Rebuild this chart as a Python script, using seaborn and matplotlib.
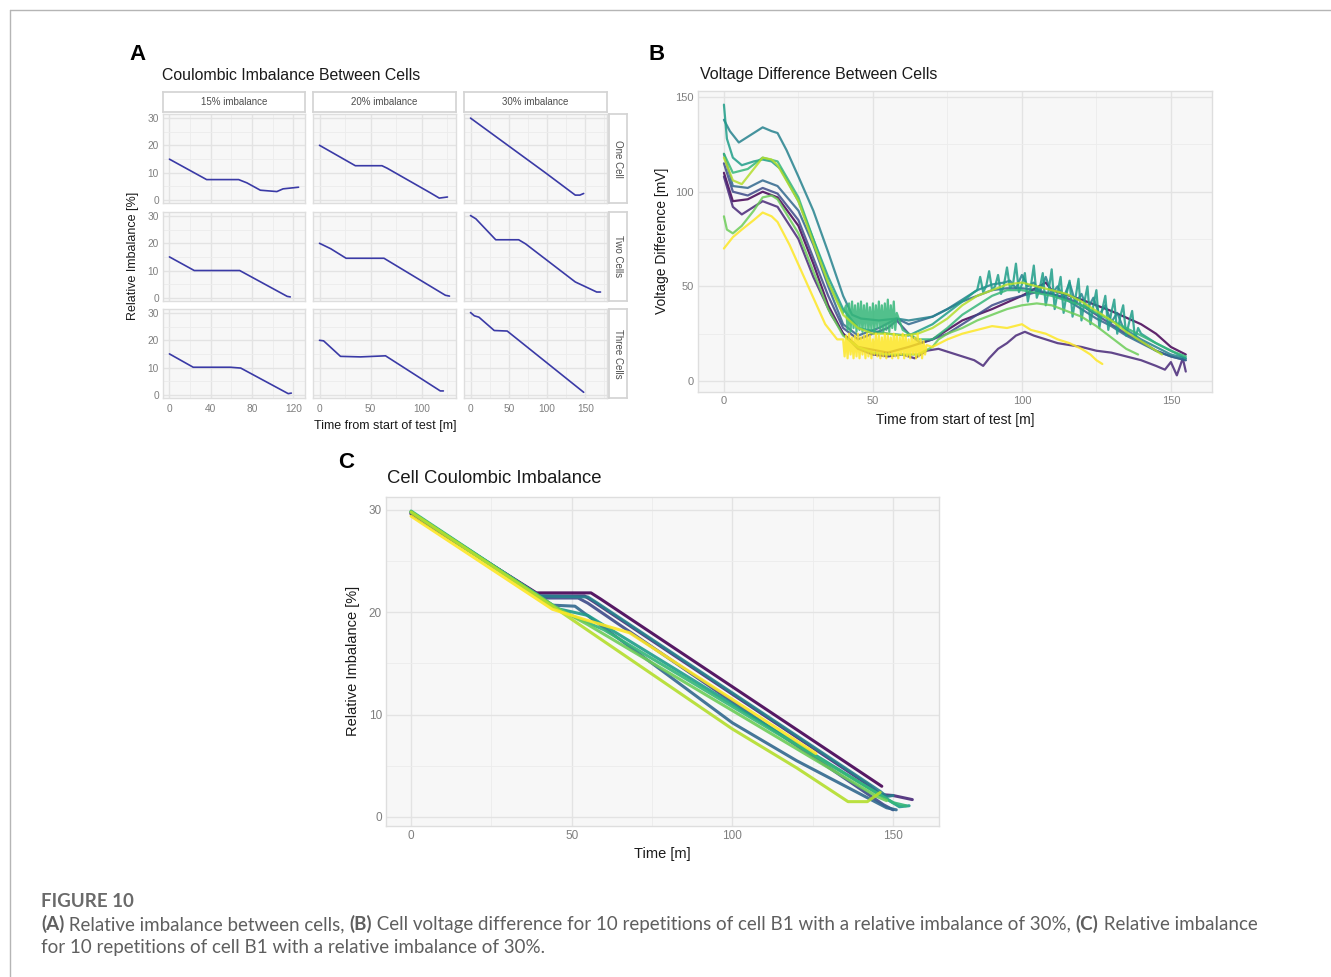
import numpy as np
import pandas as pd
import seaborn as sns
import matplotlib.pyplot as plt
from matplotlib.lines import Line2D
from matplotlib.ticker import MultipleLocator

W, H = 1331, 977

# ---------------- panel A: relative imbalance per facet ----------------
a_rows = ["One Cell", "Two Cells", "Three Cells"]
a_cols = ["15% imbalance", "20% imbalance", "30% imbalance"]

a_one_15_t = [0, 36, 67, 75, 88, 104, 110, 125]
a_one_15_v = [14.9, 7.4, 7.4, 6.2, 3.5, 3.0, 4.0, 4.6]
a_one_20_t = [0, 35, 61, 66, 108, 117, 125]
a_one_20_v = [20.0, 12.5, 12.5, 11.6, 2.6, 0.6, 1.0]
a_one_30_t = [0, 98, 137, 143, 148]
a_one_30_v = [30.0, 9.9, 1.7, 1.7, 2.3]
a_two_15_t = [0, 24, 68, 114, 117]
a_two_15_v = [15.0, 10.0, 10.0, 0.5, 0.3]
a_two_20_t = [0, 11, 26, 63, 123, 127]
a_two_20_v = [20.0, 18.0, 14.5, 14.5, 0.9, 0.6]
a_two_30_t = [0, 7, 33, 63, 72, 137, 156, 165, 170]
a_two_30_v = [30.2, 29.0, 21.3, 21.3, 19.8, 5.8, 3.3, 2.1, 2.1]
a_three_15_t = [0, 23, 59, 69, 115, 118]
a_three_15_v = [15.0, 10.1, 10.1, 9.8, 0.4, 0.6]
a_three_20_t = [0, 4, 20.5, 40, 64.5, 118, 121]
a_three_20_v = [20.0, 19.8, 14.1, 13.9, 14.3, 1.4, 1.4]
a_three_30_t = [0, 5, 11, 31, 48, 148]
a_three_30_v = [30.2, 29.0, 28.5, 23.6, 23.4, 0.9]

a_col_xlim = [(-6.25, 131.25), (-6.35, 133.35), (-8.5, 178.5)]
a_col_xticks = [[0, 40, 80, 120], [0, 50, 100], [0, 50, 100, 150]]

# ---------------- panel B: voltage difference, 10 repetitions ----------------
reps = [f"rep{i}" for i in range(1, 11)]

b0_t = [0, 3, 8, 13, 18, 25, 30, 35, 40, 45, 55, 62, 70, 80, 90, 100, 108, 110, 120, 130, 140, 145, 150, 155]
b0_v = [110, 95, 96, 100, 97, 82, 62, 40, 25, 18, 15, 18, 22, 32, 38, 45, 52, 48, 43, 37, 30, 25, 18, 14]
b1_t = [0, 3, 6, 13, 18, 25, 30, 36, 40, 45, 50, 55, 60, 64, 68, 72, 76, 80, 84, 87, 89, 92, 95, 98,
        101, 104, 108, 112, 116, 120, 125, 130, 135, 140, 145, 148, 150, 152, 154, 155]
b1_v = [108, 92, 88, 95, 92, 75, 55, 35, 25, 17, 14, 13, 14, 12, 16, 17, 15, 13, 11, 8, 12, 17, 20, 24,
        26, 24, 22, 20, 19, 18, 16, 15, 13, 11, 8, 6, 10, 3, 12, 5]
b2_t = [0, 3, 8, 13, 18, 25, 30, 35, 40, 45, 50, 55, 58, 62, 66, 70, 75, 80, 85, 90, 95, 100,
        105, 110, 115, 120, 125, 130, 135, 140, 145, 150, 155]
b2_v = [115, 100, 98, 102, 99, 85, 65, 45, 28, 22, 25, 28, 32, 25, 20, 22, 25, 30, 35, 40, 43, 45,
        47, 46, 44, 40, 35, 30, 25, 21, 16, 13, 11]
b3_t = [0, 3, 8, 13, 18, 25, 30, 35, 40, 45, 52, 58, 62, 66, 70, 75, 80, 85, 90, 95, 100,
        105, 110, 115, 120, 125, 130, 135, 140, 145, 150, 155]
b3_v = [120, 103, 102, 106, 103, 90, 72, 50, 30, 24, 28, 33, 30, 32, 34, 38, 42, 45, 48, 49, 49,
        48, 46, 43, 38, 33, 29, 24, 20, 16, 13, 11]
b4_t = [0, 2, 5, 8, 11, 13, 16, 18, 21, 25, 30, 35, 40, 43, 46, 52, 58, 62, 66, 70, 75, 80, 85, 90, 94,
        96, 98, 100, 102, 104, 106, 108, 110, 112, 114, 116, 118, 120, 122, 124, 126, 128, 130, 132, 134,
        140, 145, 150, 155]
b4_v = [138, 132, 126, 129, 132, 134, 132, 131, 122, 108, 90, 68, 45, 35, 33, 32, 33, 32, 33, 34, 38, 43, 48, 51, 52,
        53, 49, 56, 50, 52, 47, 55, 46, 50, 44, 52, 41, 46, 38, 44, 35, 40, 31, 36, 28,
        22, 18, 14, 12]
b5_t = [0, 1, 3, 6, 10, 13, 16, 19, 25, 30, 35, 40, 45, 55, 62, 70, 80, 84] + list(range(85, 141)) + [145, 150, 155]
b5_v = [146, 128, 118, 114, 116, 117, 116, 112, 95, 75, 55, 38, 28, 25, 24, 30, 42, 47,
        48, 55, 47, 50, 58, 48, 50, 56, 46, 51,
        60, 49, 51, 62, 47, 51, 57, 42, 50, 61,
        44, 49, 57, 40, 48, 59, 38, 47, 55, 36,
        46, 53, 34, 44, 54, 32, 42, 50, 30, 40,
        48, 28, 38, 45, 27, 36, 43, 25, 34, 40,
        24, 31, 37, 22, 28, 25,
        20, 16, 12]
b6_t = [0, 3, 8, 13, 18, 25, 30, 35, 40, 60, 65, 70, 75, 80, 85, 90, 95, 100, 110, 120, 130, 140, 150, 155]
b6_v = [120, 110, 112, 118, 116, 97, 75, 52, 36, 27, 22, 22, 28, 35, 40, 45, 48, 48, 45, 40, 32, 24, 16, 13]
b6_block_t = list(np.arange(41, 58.01, 0.5))
b6_block_v = [40, 27, 41, 26, 42, 28, 40, 26, 41, 27, 42, 26, 40, 28, 41, 26, 39, 27, 41, 26,
              40, 28, 42, 27, 40, 26, 41, 27, 43, 26, 40, 28, 42, 27, 36]
b7_t = [0, 1, 3, 6, 10, 13, 16, 18, 25, 30, 35, 40, 45, 50, 55, 60, 65, 70, 72, 75, 80, 85, 90, 95,
        100, 105, 110, 115, 120, 125, 130, 135, 139]
b7_v = [87, 80, 78, 82, 90, 97, 98, 96, 78, 58, 38, 24, 18, 15, 14, 14, 14, 18, 22, 25, 28, 32, 35, 38,
        40, 41, 40, 37, 34, 29, 23, 17, 14]
b8_t = [0, 3, 6, 10, 13, 16, 18, 25, 30, 35, 40, 45, 50, 55, 60, 65, 70, 75, 80, 85, 90, 95, 100,
        105, 110, 115, 120, 125, 130, 135, 140, 145, 147]
b8_v = [118, 106, 104, 112, 118, 117, 114, 95, 73, 52, 35, 28, 25, 25, 24, 25, 28, 33, 40, 45, 48, 51, 52,
        50, 48, 46, 42, 37, 32, 26, 21, 16, 14]
b9_t = [0, 1, 3, 6, 10, 13, 16, 18, 22, 26, 30, 34, 38, 70, 75, 80, 85, 90, 95, 100, 103, 108, 112,
        116, 120, 123, 125, 127]
b9_v = [70, 72, 76, 80, 85, 89, 87, 84, 72, 58, 44, 30, 22, 18, 22, 25, 27, 29, 28, 30, 27, 25, 22,
        20, 17, 14, 11, 9]
b9_block_t = list(np.arange(40, 68.01, 0.5))
b9_block_v = [22, 13, 24, 12, 25, 14, 23, 12, 24, 13, 25, 12, 23, 14, 24, 12, 25, 13, 24, 12,
              22, 14, 25, 13, 24, 12, 23, 13, 25, 12, 24, 14, 23, 12, 25, 13, 24, 12, 23, 14,
              25, 12, 24, 13, 22, 12, 24, 14, 23, 12, 25, 13, 22, 12, 21, 14, 19]

# ---------------- panel C: relative imbalance, 10 repetitions ----------------
c0_t = [0, 39, 56, 59, 146.5]
c0_v = [29.6, 21.9, 21.9, 21.3, 3.0]
c1_t = [0, 40, 54, 57, 143, 146, 150, 156]
c1_v = [29.7, 21.6, 21.6, 21.0, 3.0, 2.2, 2.1, 1.7]
c2_t = [0, 41, 52, 55, 147, 150]
c2_v = [29.7, 21.4, 21.4, 20.9, 1.2, 0.7]
c3_t = [0, 44, 51, 100, 120, 148, 151]
c3_v = [29.8, 20.7, 20.6, 9.2, 5.5, 0.9, 0.7]
c4_t = [0, 40, 55, 58, 146, 148, 150]
c4_v = [29.8, 21.6, 21.5, 20.9, 2.5, 2.0, 2.1]
c5_t = [0, 45, 55, 152, 155]
c5_v = [29.8, 20.4, 19.7, 1.0, 1.1]
c6_t = [0, 47, 60, 150, 154]
c6_v = [29.9, 20.1, 18.3, 1.4, 1.1]
c7_t = [0, 45, 55, 145, 148]
c7_v = [29.8, 20.5, 18.8, 2.0, 1.6]
c8_t = [0, 44, 100, 120, 136, 142, 146]
c8_v = [29.8, 20.6, 8.6, 4.8, 1.5, 1.5, 2.4]
c9_t = [0, 44, 55, 68, 126]
c9_v = [29.4, 20.3, 19.2, 18.0, 6.2]

viridis10 = ["#440154", "#482878", "#3E4A89", "#31688E", "#26828E",
             "#1F9E89", "#35B779", "#6DCD59", "#B4DE2C", "#FDE725"]

# ---------------- build tables ----------------
a_lists = {
    ("One Cell", "15% imbalance"): (a_one_15_t, a_one_15_v),
    ("One Cell", "20% imbalance"): (a_one_20_t, a_one_20_v),
    ("One Cell", "30% imbalance"): (a_one_30_t, a_one_30_v),
    ("Two Cells", "15% imbalance"): (a_two_15_t, a_two_15_v),
    ("Two Cells", "20% imbalance"): (a_two_20_t, a_two_20_v),
    ("Two Cells", "30% imbalance"): (a_two_30_t, a_two_30_v),
    ("Three Cells", "15% imbalance"): (a_three_15_t, a_three_15_v),
    ("Three Cells", "20% imbalance"): (a_three_20_t, a_three_20_v),
    ("Three Cells", "30% imbalance"): (a_three_30_t, a_three_30_v),
}
df_a = pd.concat([pd.DataFrame({"cells": r, "imb": c, "t": t, "v": v})
                  for (r, c), (t, v) in a_lists.items()], ignore_index=True)

b_lists = [(b0_t, b0_v), (b1_t, b1_v), (b2_t, b2_v), (b3_t, b3_v), (b4_t, b4_v),
           (b5_t, b5_v), (b6_t + b6_block_t, b6_v + b6_block_v), (b7_t, b7_v),
           (b8_t, b8_v), (b9_t + b9_block_t, b9_v + b9_block_v)]
df_b = pd.concat([pd.DataFrame({"rep": reps[i], "t": t, "v": v})
                  for i, (t, v) in enumerate(b_lists)], ignore_index=True)

c_lists = [(c0_t, c0_v), (c1_t, c1_v), (c2_t, c2_v), (c3_t, c3_v), (c4_t, c4_v),
           (c5_t, c5_v), (c6_t, c6_v), (c7_t, c7_v), (c8_t, c8_v), (c9_t, c9_v)]
df_c = pd.concat([pd.DataFrame({"rep": reps[i], "t": t, "v": v})
                  for i, (t, v) in enumerate(c_lists)], ignore_index=True)

# ---------------- figure ----------------
sns.set_theme(style="white")
plt.rcParams['font.family'] = ['Liberation Sans', 'DejaVu Sans']

fig = plt.figure(figsize=(W / 100, H / 100), dpi=100)
fig.patch.set_facecolor("white")

TICK = "#7f7f7f"
INK = "#1a1a1a"


def px_axes(l, t, r, b):
    return fig.add_axes([l / W, 1 - b / H, (r - l) / W, (b - t) / H])


def ftext(x, y, s, **kw):
    return fig.text(x / W, 1 - y / H, s, **kw)


def style_panel(ax, xlim, ylim, xmaj, xmin, ymaj, ymin, fs, showx=True, showy=True):
    ax.set_facecolor("#f7f7f7")
    ax.set_xlim(*xlim)
    ax.set_ylim(*ylim)
    ax.xaxis.set_major_locator(MultipleLocator(xmaj))
    ax.xaxis.set_minor_locator(MultipleLocator(xmin))
    ax.yaxis.set_major_locator(MultipleLocator(ymaj))
    ax.yaxis.set_minor_locator(MultipleLocator(ymin))
    ax.grid(True, which="major", color="#e3e3e3", lw=1.0)
    ax.grid(True, which="minor", color="#ececec", lw=0.6)
    ax.set_axisbelow(True)
    for sp in ax.spines.values():
        sp.set_color("#dedede")
        sp.set_linewidth(1.0)
    ax.tick_params(which="both", length=0, labelsize=fs, labelcolor=TICK, pad=3)
    if not showx:
        ax.set_xticklabels([])
    if not showy:
        ax.set_yticklabels([])
    ax.set_xlabel("")
    ax.set_ylabel("")


# ---- panel A ----
col_px = [(163, 305), (313, 456), (464, 607)]
row_px = [(114, 203), (212, 301), (309, 398)]
for ri, rname in enumerate(a_rows):
    for ci, cname in enumerate(a_cols):
        ax = px_axes(col_px[ci][0], row_px[ri][0], col_px[ci][1], row_px[ri][1])
        sub = df_a[(df_a["cells"] == rname) & (df_a["imb"] == cname)]
        sns.lineplot(data=sub, x="t", y="v", color="#3a3aa6", lw=1.2,
                     estimator=None, sort=False, ax=ax)
        style_panel(ax, a_col_xlim[ci], (-1.2, 31.5), 40 if ci == 0 else 50,
                    20 if ci == 0 else 25, 10, 5, 7.3,
                    showx=(ri == 2), showy=(ci == 0))
        ax.set_xticks(a_col_xticks[ci])
        if ri != 2:
            ax.set_xticklabels([])
        ax.tick_params(axis="x", pad=4)
        if ri == 0:
            st = px_axes(col_px[ci][0], 92, col_px[ci][1], 112)
            st.set_facecolor("white")
            st.set_xticks([]); st.set_yticks([])
            for sp in st.spines.values():
                sp.set_color("#d4d4d4")
            st.text(0.5, 0.5, cname, ha="center", va="center", fontsize=7, color="#4d4d4d",
                    transform=st.transAxes)
    sr = px_axes(609, row_px[ri][0], 627, row_px[ri][1])
    sr.set_facecolor("white")
    sr.set_xticks([]); sr.set_yticks([])
    for sp in sr.spines.values():
        sp.set_color("#d4d4d4")
    sr.text(0.5, 0.5, rname, ha="center", va="center", fontsize=7, color="#4d4d4d",
            rotation=-90, transform=sr.transAxes)

ftext(129, 54, "A", fontsize=16, fontweight="bold", color="black", va="center")
ftext(162, 75, "Coulombic Imbalance Between Cells", fontsize=11.4, color=INK, va="center")
ftext(385, 426, "Time from start of test [m]", fontsize=9, color=INK, ha="center", va="center")
ftext(133, 256, "Relative Imbalance [%]", fontsize=9, color=INK, ha="center", va="center",
      rotation=90)

# ---- panel B ----
ax_b = px_axes(698, 91, 1212, 392)
sns.lineplot(data=df_b, x="t", y="v", hue="rep", hue_order=reps, palette=viridis10,
             estimator=None, legend=False, lw=1.6, alpha=0.85, ax=ax_b)
style_panel(ax_b, (-8.7, 163.8), (-5.8, 153.2), 50, 25, 50, 25, 8)
ftext(649, 54, "B", fontsize=16, fontweight="bold", color="black", va="center")
ftext(700, 75, "Voltage Difference Between Cells", fontsize=11.5, color=INK, va="center")
ftext(955, 420, "Time from start of test [m]", fontsize=10, color=INK, ha="center", va="center")
ftext(662, 241, "Voltage Difference [mV]", fontsize=10, color=INK, ha="center", va="center",
      rotation=90)

# ---- panel C ----
ax_c = px_axes(386, 497, 939, 826)
sns.lineplot(data=df_c, x="t", y="v", hue="rep", hue_order=reps, palette=viridis10,
             estimator=None, legend=False, lw=2.2, alpha=0.9, ax=ax_c)
style_panel(ax_c, (-7.8, 164.3), (-0.88, 31.27), 50, 25, 10, 5, 8.5)
ftext(338, 462, "C", fontsize=16, fontweight="bold", color="black", va="center")
ftext(387, 479, "Cell Coulombic Imbalance", fontsize=13.3, color=INK, va="center")
ftext(662, 854, "Time [m]", fontsize=10.5, color=INK, ha="center", va="center")
ftext(353, 661, "Relative Imbalance [%]", fontsize=10.5, color=INK, ha="center", va="center",
      rotation=90)

# ---- frame lines ----
fig.add_artist(Line2D([10 / W, 1], [1 - 10 / H, 1 - 10 / H], color="#b5b5b5", lw=1.0))
fig.add_artist(Line2D([10 / W, 10 / W], [0, 1 - 10 / H], color="#b5b5b5", lw=1.0))

# ---- caption ----
ax_txt = fig.add_axes([0, 0, 1, 1])
ax_txt.axis("off")
ax_txt.set_zorder(-1)
CAP = "#5f5f5f"
CAPF = ["Lato", "DejaVu Sans"]
CAPS = 13.5
ftext(41, 907, "FIGURE 10", fontsize=13.5, fontweight="bold", color="#6a6a6a", family=CAPF)


def chain(x, y, parts):
    prev = ax_txt.text(x / W, 1 - y / H, parts[0][0], transform=fig.transFigure,
                       fontsize=CAPS, fontweight=parts[0][1], color=CAP, family=CAPF,
                       va="baseline")
    for s, w in parts[1:]:
        prev = ax_txt.annotate(s, xy=(1, 0), xycoords=prev, va="bottom", ha="left",
                               fontsize=CAPS, fontweight=w, color=CAP, family=CAPF)


chain(41, 930, [("(A)", "bold"), (" Relative imbalance between cells, ", "normal"),
                ("(B)", "bold"),
                (" Cell voltage difference for 10 repetitions of cell B1 with a relative imbalance of 30%, ",
                 "normal"),
                ("(C)", "bold"), (" Relative imbalance", "normal")])
ftext(41, 953, "for 10 repetitions of cell B1 with a relative imbalance of 30%.", fontsize=CAPS,
      color=CAP, family=CAPF, va="baseline")

fig.savefig("out.png", dpi=100)
